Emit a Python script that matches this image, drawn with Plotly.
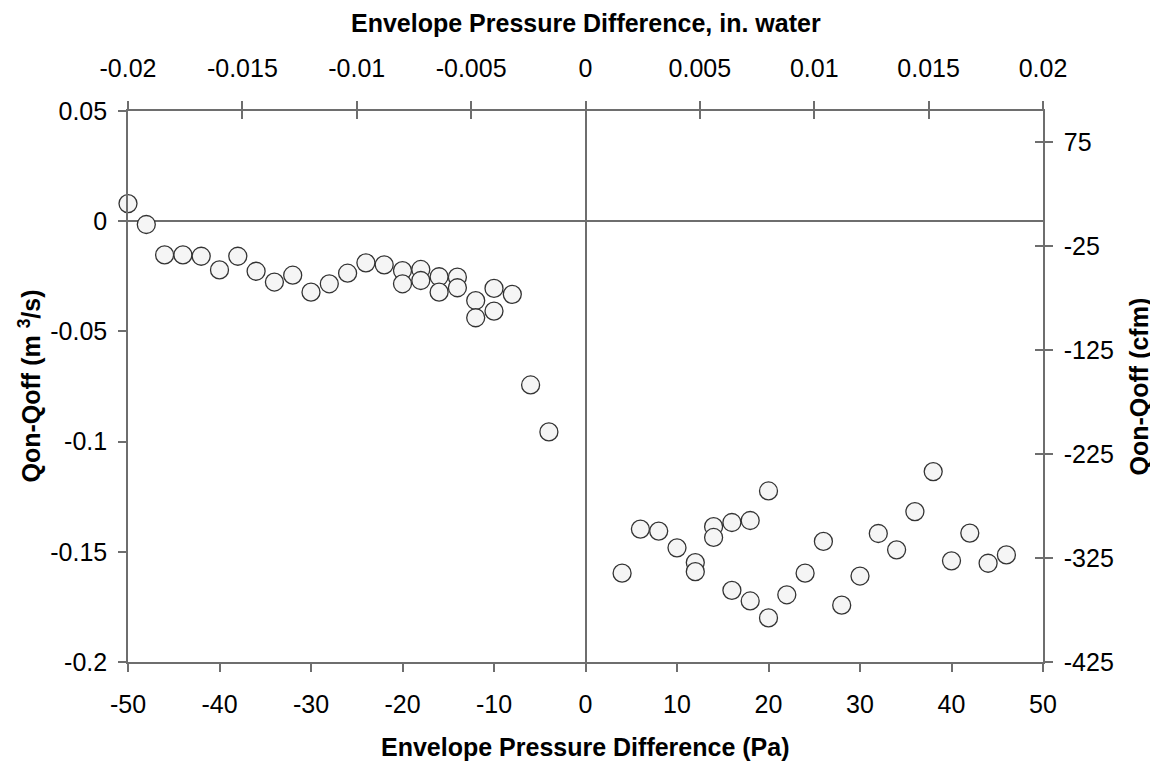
import plotly.graph_objects as go

# Envelope pressure difference (Pa)
pressure_pa = [-50, -48, -46, -44, -42, -40, -38, -36, -34, -32, -30, -28, -26, -24, -22,
               -20, -20, -18, -18, -16, -16, -14, -14, -12, -12, -10, -10, -8, -6, -4,
               4, 6, 8, 10, 12, 12, 14, 14, 16, 16, 18, 18, 20, 20, 22, 24, 26, 28, 30,
               32, 34, 36, 38, 40, 42, 44, 46]
# Qon - Qoff (m3/s)
dq_m3s = [0.0080, -0.0015, -0.0153, -0.0153, -0.0159, -0.0221, -0.0159, -0.0227, -0.0276,
          -0.0245, -0.0322, -0.0284, -0.0236, -0.0189, -0.0198,
          -0.0224, -0.0284, -0.0219, -0.0269, -0.0252, -0.0322, -0.0254, -0.0302,
          -0.0360, -0.0438, -0.0305, -0.0408, -0.0332, -0.0743, -0.0956,
          -0.1597, -0.1397, -0.1406, -0.1482, -0.1549, -0.1590, -0.1386, -0.1435,
          -0.1367, -0.1675, -0.1358, -0.1723, -0.1224, -0.1800, -0.1695, -0.1597,
          -0.1453, -0.1742, -0.1610, -0.1417, -0.1491, -0.1318, -0.1136, -0.1541,
          -0.1415, -0.1552, -0.1514]

x_ticks = [-50, -40, -30, -20, -10, 0, 10, 20, 30, 40, 50]
x_ticktext = ["-50", "-40", "-30", "-20", "-10", "0", "10", "20", "30", "40", "50"]
y_ticks = [0.05, 0, -0.05, -0.1, -0.15, -0.2]
y_ticktext = ["0.05", "0", "-0.05", "-0.1", "-0.15", "-0.2"]
top_ticks = [-0.02, -0.015, -0.01, -0.005, 0, 0.005, 0.01, 0.015, 0.02]
top_ticktext = ["-0.02", "-0.015", "-0.01", "-0.005", "0", "0.005", "0.01", "0.015", "0.02"]
right_ticks = [75, -25, -125, -225, -325, -425]
right_ticktext = ["75", "-25", "-125", "-225", "-325", "-425"]

CFM_PER_M3S = 2118.88
right_range = [-425, -425 + 0.25 * CFM_PER_M3S]

LINE = "#6e6e6e"
FONT = "Liberation Sans, Arial, sans-serif"
tickfont = dict(family=FONT, size=25, color="black")

fig = go.Figure()
fig.add_trace(go.Scatter(
    x=pressure_pa, y=dq_m3s, mode="markers",
    marker=dict(size=18, color="#f5f5f5", line=dict(color="#333333", width=1.3)),
    showlegend=False, cliponaxis=False))
# helper traces to activate secondary axes
fig.add_trace(go.Scatter(x=[], y=[], xaxis="x2", yaxis="y2", showlegend=False))
fig.add_trace(go.Scatter(x=[], y=[], xaxis="x3", yaxis="y3", showlegend=False))

axis_common = dict(showgrid=False, linecolor=LINE, linewidth=1.6, tickcolor=LINE,
                   tickwidth=1.5, ticklen=8, tickfont=tickfont, mirror=False)

# the page body has an 8px margin, so the figure is sized to fill the rest of the window
fig.update_layout(
    width=1150, height=754,
    margin=dict(l=120, r=115, t=103, b=100),
    paper_bgcolor="white", plot_bgcolor="white",
    font=dict(family=FONT, color="black"),
    xaxis=dict(range=[-50, 50], tickvals=x_ticks, ticktext=x_ticktext, ticks="outside",
               showline=True, zeroline=True, zerolinecolor=LINE, zerolinewidth=1.5,
               ticklabelstandoff=11, **axis_common),
    yaxis=dict(range=[-0.2, 0.05], tickvals=y_ticks, ticktext=y_ticktext, ticks="outside",
               showline=True, zeroline=True, zerolinecolor=LINE, zerolinewidth=1.5,
               ticklabelstandoff=6, **axis_common),
    xaxis2=dict(range=[-0.02, 0.02], tickvals=top_ticks, ticktext=top_ticktext,
                overlaying="x", side="top", ticks="outside", showline=True, zeroline=False,
                ticklabelstandoff=14, **axis_common),
    yaxis2=dict(range=right_range, tickvals=right_ticks, ticktext=right_ticktext,
                overlaying="y", side="right", ticks="outside", showline=True, zeroline=False,
                ticklabelstandoff=6, **axis_common),
    xaxis3=dict(range=[-0.02, 0.02], tickvals=top_ticks, overlaying="x", side="top",
                ticks="inside", showticklabels=False, showline=False, zeroline=False,
                **axis_common),
    yaxis3=dict(range=right_range, tickvals=right_ticks, overlaying="y", side="right",
                ticks="inside", showticklabels=False, showline=False, zeroline=False,
                **axis_common),
)

title_font = dict(family=FONT, size=25, color="black")
fig.add_annotation(text="<b>Envelope Pressure Difference, in. water</b>", xref="paper", yref="paper",
                   x=0.5, y=1, yanchor="middle", yshift=88, showarrow=False, font=title_font)
fig.add_annotation(text="<b>Envelope Pressure Difference (Pa)</b>", xref="paper", yref="paper",
                   x=0.5, y=0, yanchor="top", yshift=-69, showarrow=False, font=title_font)
fig.add_annotation(text="<b>Qon-Qoff (m <sup>3</sup>/s)</b>", xref="paper", yref="paper",
                   x=0, y=0.5, xanchor="center", xshift=-99, textangle=-90, showarrow=False,
                   font=title_font)
fig.add_annotation(text="<b>Qon-Qoff (cfm)</b>", xref="paper", yref="paper",
                   x=1, y=0.5, xanchor="center", xshift=95, textangle=-90, showarrow=False,
                   font=title_font)

fig.write_html("out.html")
